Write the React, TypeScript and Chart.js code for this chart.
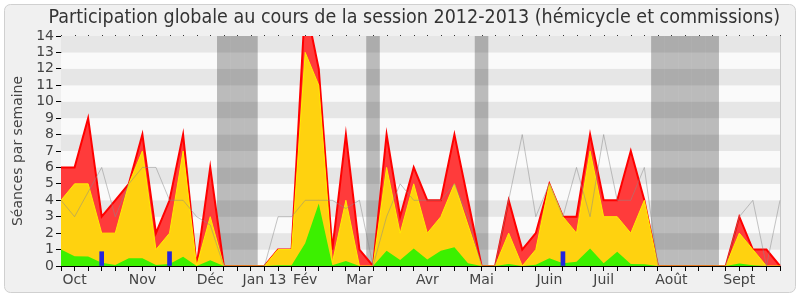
import React, { useEffect, useRef } from 'react';
import { Chart, registerables } from 'chart.js';

Chart.register(...registerables);

const TITLE = 'Participation globale au cours de la session 2012-2013 (hémicycle et commissions)';
const Y_TITLE = 'Séances par semaine';

// 54 weeks (Oct 2012 -> Sept 2013)
const weekLabels = [
  '', 'Oct', '', '', '', '', 'Nov', '', '', '',
  '', 'Déc', '', '', '', 'Jan 13', '', '', 'Fév', '',
  '', '', 'Mar', '', '', '', '', 'Avr', '', '',
  '', 'Mai', '', '', '', '', 'Juin', '', '', '',
  'Juil', '', '', '', '', 'Août', '', '', '', '',
  'Sept', '', '', '',
];

// red: total
const totalSeances = [
  6, 6, 9, 3, 4, 5, 8, 2, 4, 8,
  0, 6, 0, 0, 0, 0, 1, 1, 16, 12,
  1, 8, 1, 0, 8, 3, 6, 4, 4, 8,
  4, 0, 0, 4, 1, 2, 5, 3, 3, 8,
  4, 4, 7, 4, 0, 0, 0, 0, 0, 0,
  3, 1, 1, 0,
];

// yellow: commissions
const commissionSeances = [
  4, 5, 5, 2, 2, 5, 7, 1, 2, 7,
  0, 3, 0, 0, 0, 0, 1, 1, 13, 11,
  0.2, 4, 0, 0, 6, 2, 5, 2, 3, 5,
  2.5, 0, 0, 2, 0, 1, 5, 3, 2, 7,
  3, 3, 2, 4, 0, 0, 0, 0, 0, 0,
  2, 1, 0, 0,
];

// green: hémicycle
const hemicycleSeances = [
  1, 0.6, 0.58, 0.2, 0.06, 0.47, 0.47, 0.06, 0.12, 0.57,
  0, 0.35, 0, 0, 0, 0, 0.05, 0.05, 1.38, 3.8,
  0.05, 0.3, 0, 0, 0.93, 0.37, 1.07, 0.4, 0.93, 1.14,
  0.16, 0, 0, 0.12, 0, 0.08, 0.47, 0.16, 0.26, 1.07,
  0.16, 0.87, 0.12, 0.1, 0, 0, 0, 0, 0, 0,
  0.15, 0.05, 0, 0,
];

// grey: median of all deputies
const medianeDeputes = [
  4, 3, 4.5, 6, 3, 5, 6, 6, 4, 4,
  3, 2.5, 0, 0, 0, 0, 3, 3, 4, 4,
  4, 3.5, 4, 0, 3, 5, 4, 4, 4, 5,
  3, 0, 0, 4, 8, 3, 5, 3, 6, 3,
  8, 4, 4, 6, 0, 0, 0, 0, 0, 0,
  3, 4, 0, 4,
];

// blue marks
const blueWeeks = [3, 8, 37];
const blueValues = [0.87, 0.87, 0.87];

// holidays (grey vertical bands)
const holidayWeeks = [12, 13, 14, 23, 31, 44, 45, 46, 47, 48];

const yMax = 14;

const blueData = weekLabels.map((_, i) => {
  const k = blueWeeks.indexOf(i);
  return k >= 0 ? blueValues[k] : null;
});

const decorPlugin = {
  id: 'decor',
  beforeDraw(chart: any) {
    const { ctx, width, height } = chart;
    ctx.save();
    ctx.fillStyle = '#ffffff';
    ctx.fillRect(0, 0, width, height);
    const x0 = 4.5, y0 = 4.5, w = 791, h = 288, r = 6;
    ctx.beginPath();
    ctx.moveTo(x0 + r, y0);
    ctx.lineTo(x0 + w - r, y0);
    ctx.arcTo(x0 + w, y0, x0 + w, y0 + r, r);
    ctx.lineTo(x0 + w, y0 + h - r);
    ctx.arcTo(x0 + w, y0 + h, x0 + w - r, y0 + h, r);
    ctx.lineTo(x0 + r, y0 + h);
    ctx.arcTo(x0, y0 + h, x0, y0 + h - r, r);
    ctx.lineTo(x0, y0 + r);
    ctx.arcTo(x0, y0, x0 + r, y0, r);
    ctx.closePath();
    ctx.fillStyle = '#f0f0f0';
    ctx.fill();
    ctx.strokeStyle = '#d0d0d0';
    ctx.lineWidth = 1;
    ctx.stroke();
    ctx.restore();
  },
  beforeDatasetsDraw(chart: any) {
    const { ctx, chartArea, scales } = chart;
    const { left, right, top, bottom } = chartArea;
    const xs = scales.x, ys = scales.y;
    ctx.save();
    for (let v = 0; v < yMax; v++) {
      const ya = ys.getPixelForValue(v + 1);
      const yb = ys.getPixelForValue(v);
      ctx.fillStyle = v % 2 === 1 ? '#e6e6e6' : '#fafafa';
      ctx.fillRect(left, ya, right - left, yb - ya);
    }
    ctx.fillStyle = 'rgba(0,0,0,0.25)';
    for (const wk of holidayWeeks) {
      const a = Math.max(left, xs.getPixelForValue(wk - 0.5));
      const b = Math.min(right, xs.getPixelForValue(wk + 0.5));
      ctx.fillRect(a, top, b - a, bottom - top);
    }
    ctx.strokeStyle = '#c8c8c8';
    ctx.lineWidth = 1;
    ctx.beginPath();
    ctx.moveTo(Math.round(right) + 0.5, top);
    ctx.lineTo(Math.round(right) + 0.5, bottom);
    ctx.stroke();
    ctx.restore();
  },
  afterDraw(chart: any) {
    const { ctx, chartArea, scales } = chart;
    ctx.save();
    ctx.fillStyle = '#333';
    for (let i = 0; i < weekLabels.length; i++) {
      const px = Math.round(scales.x.getPixelForValue(i));
      ctx.fillRect(px, Math.round(chartArea.top) - 1, 1, 1);
    }
    ctx.restore();
  },
};

export default function App() {
  const ref = useRef<HTMLCanvasElement>(null);
  useEffect(() => {
    Chart.defaults.font.family = "'DejaVu Sans'";
    const chart = new Chart(ref.current as HTMLCanvasElement, {
      type: 'line',
      data: {
        labels: weekLabels,
        datasets: [
          {
            type: 'line',
            label: 'total',
            data: totalSeances,
            borderColor: '#ff0000',
            borderWidth: 2,
            backgroundColor: '#ff3b3b',
            fill: 'origin',
            pointRadius: 0,
            tension: 0,
            order: 5,
          },
          {
            type: 'line',
            label: 'commissions',
            data: commissionSeances,
            borderColor: '#ffee00',
            borderWidth: 1,
            backgroundColor: '#ffd20f',
            fill: 'origin',
            pointRadius: 0,
            tension: 0,
            order: 4,
          },
          {
            type: 'line',
            label: 'hémicycle',
            data: hemicycleSeances,
            borderColor: '#33ee00',
            borderWidth: 0,
            backgroundColor: '#3cf000',
            fill: 'origin',
            pointRadius: 0,
            tension: 0,
            order: 3,
          },
          {
            type: 'line',
            label: 'médiane',
            data: medianeDeputes,
            borderColor: 'rgba(140,140,140,0.5)',
            borderWidth: 1,
            fill: false,
            pointRadius: 0,
            tension: 0,
            order: 2,
          },
          {
            type: 'bar',
            label: 'blue',
            data: blueData,
            backgroundColor: '#2424dd',
            barThickness: 4,
            order: 1,
          } as any,
        ],
      },
      options: {
        animation: false,
        responsive: false,
        layout: { padding: { left: 0, right: 20, top: 0, bottom: 0 } },
        plugins: {
          legend: { display: false },
          tooltip: { enabled: false },
          title: {
            display: true,
            text: TITLE,
            align: 'end',
            color: '#333',
            font: { family: "'DejaVu Sans Condensed'", size: 19.5, weight: 'normal' },
            padding: { top: 6, bottom: 6.6 },
          },
        },
        scales: {
          x: {
            type: 'category',
            offset: false,
            grid: { drawOnChartArea: false, drawTicks: true, tickLength: 5, color: '#000', offset: false },
            border: { display: true, color: '#000' },
            ticks: { autoSkip: false, maxRotation: 0, minRotation: 0, font: { size: 14 }, color: '#444', padding: 1 },
            afterFit: (s: any) => { s.height = 34; },
          },
          y: {
            min: 0,
            max: yMax,
            ticks: { stepSize: 1, autoSkip: false, font: { size: 14 }, color: '#444', padding: 2 },
            grid: { drawOnChartArea: false, drawTicks: true, tickLength: 5, color: '#000' },
            border: { display: true, color: '#000' },
            title: { display: true, text: Y_TITLE, color: '#444', font: { size: 14 }, padding: { top: 10, bottom: 0 } },
            afterFit: (s: any) => { s.width = 61; },
          },
        },
      } as any,
      plugins: [decorPlugin],
    });
    return () => chart.destroy();
  }, []);
  return (
    <div style={{ position: 'fixed', left: 0, top: 0, width: 800, height: 300 }}>
      <canvas ref={ref} width={800} height={300} style={{ display: 'block', width: 800, height: 300 }} />
    </div>
  );
}
